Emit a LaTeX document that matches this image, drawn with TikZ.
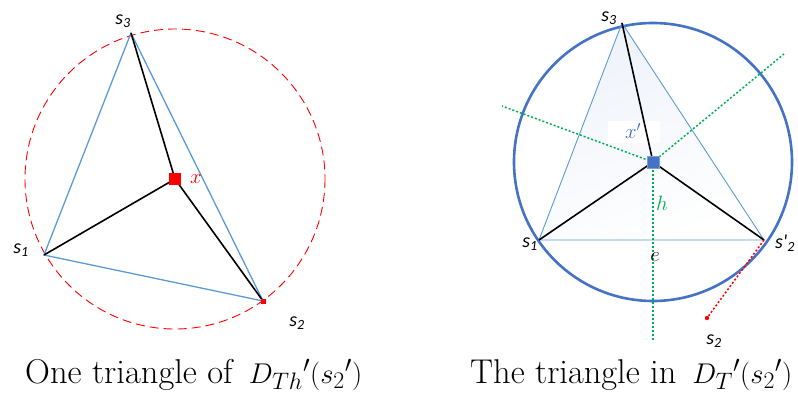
\documentclass[tikz,border=0pt]{standalone}
\usepackage{fontspec}
\newfontfamily\labfont{Carlito}
\definecolor{triblue}{RGB}{91,155,213}
\definecolor{circblue}{RGB}{68,114,196}
\definecolor{grn}{RGB}{0,176,80}
\newcommand\slab[1]{{\labfont\itshape s\textsubscript{#1}}}
\tikzset{
  tri/.style={triblue, line width=1.3pt},
  trithin/.style={triblue, line width=0.9pt},
  spoke/.style={black, line width=1.6pt},
  lbl/.style={font=\fontsize{20}{22}\selectfont, inner sep=0pt},
  mlbl/.style={font=\fontsize{22}{24}\selectfont, inner sep=0pt},
  gdot/.style={grn, line width=1.5pt, dash pattern=on 2pt off 2pt},
  rdot/.style={red, line width=1.5pt, dash pattern=on 2pt off 2pt},
  captext/.style={font=\fontsize{30}{34}\selectfont, anchor=base west, inner sep=0pt}
}
\begin{document}
\begin{tikzpicture}[x=1pt,y=-1pt]
\useasboundingbox (0,0) rectangle (798,394);
% ---------- left figure ----------
\draw[red, line width=0.9pt, dash pattern=on 9pt off 5pt] (175,179) circle[radius=150];
\coordinate (A1) at (44,255);
\coordinate (A2) at (263,301);
\coordinate (A3) at (131,33);
\node[fill=red, minimum size=12pt, inner sep=0pt] (LX) at (175,179) {};
\draw[tri] (A1) -- (A2) -- (A3) -- cycle;
\draw[spoke] (LX.center) -- (A1);
\draw[spoke] (LX.center) -- (A2);
\draw[spoke] (LX.center) -- (A3);
\node[fill=red, minimum size=12pt, inner sep=0pt] at (LX) {};
\node[fill=red, minimum size=5pt, inner sep=0pt] (A2m) at (A2) {};
\node[lbl] (l3) at (123,21) {\slab{3}};
\node[lbl] (l1) at (21,250) {\slab{1}};
\node[lbl] (l2) at (297,323) {\slab{2}};
\node[lbl, red] (lx) at (196,179) {$x$};
% ---------- right figure ----------
\coordinate (B1) at (539,240);
\coordinate (B2) at (764,240);
\coordinate (B3) at (622,23);
\coordinate (BC) at (653,162);
\shade[top color=circblue!9, bottom color=white, shading angle=20] (B1) -- (B2) -- (B3) -- cycle;
\node[fill=white, minimum width=52pt, minimum height=22pt, inner sep=0pt] (xb) at (634,132) {};
\draw[circblue, line width=2.6pt] (BC) circle[radius=139];
\draw[trithin] (B1) -- (B2) -- (B3) -- cycle;
\coordinate (G1) at (502,106);
\coordinate (G2) at (784,54);
\coordinate (G3) at (653,342);
\coordinate (S2) at (707,318);
\draw[gdot] (BC) -- (G1);
\draw[gdot] (BC) -- (G2);
\draw[gdot] (BC) -- (G3);
\draw[spoke] (BC) -- (B1);
\draw[spoke] (BC) -- (B2);
\draw[spoke] (BC) -- (B3);
\draw[rdot] (B2) -- (S2);
\fill[red] (S2) circle[radius=2.2];
\node[fill=circblue, draw=circblue!70, line width=0.6pt, minimum size=12pt, inner sep=0pt] (BX) at (BC) {};
\node[lbl] (r3) at (609,18) {\slab{3}};
\node[lbl] (r1) at (530,244) {\slab{1}};
\node[lbl, anchor=west] (r2p) at (775,243) {{\labfont\itshape s'\textsubscript{2}}};
\node[lbl] (r2) at (714,341) {\slab{2}};
\node[mlbl, circblue] (rx) at (633,131) {$x'$};
\node[mlbl, grn] (rh) at (662,203) {$h$};
\node[mlbl] (re) at (655,257) {$e$};
% ---------- captions ----------
\node[captext] (c1) at (25,383) {\resizebox{337pt}{!}{One triangle of\, $D_{Th}{}'(s_2{}')$}};
\node[captext] (c2) at (470,383) {\resizebox{322pt}{!}{The triangle in\, $D_T{}'(s_2{}')$}};
\end{tikzpicture}
\end{document}
